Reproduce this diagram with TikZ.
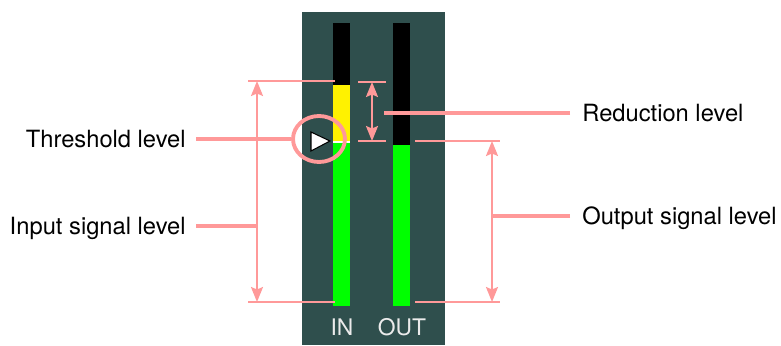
\documentclass[tikz,border=0pt]{standalone}
\usepackage{fontspec}
\setmainfont{TeX Gyre Heros}
\usetikzlibrary{arrows.meta,shapes.geometric}
\definecolor{panelgray}{RGB}{47,79,77}
\definecolor{markpink}{RGB}{255,153,153}

\begin{document}
\begin{tikzpicture}[x=0.02cm,y=-0.02cm,>={Stealth[length=3mm,width=2.4mm,inset=0.5mm]},line cap=butt]
\tikzset{
  lbl/.style={font=\fontsize{13.5}{16}\selectfont,inner sep=0pt,text height=9.7pt,text depth=0pt},
  tick/.style={markpink,line width=1.1pt},
  lead/.style={markpink,line width=2.4pt},
  span/.style={markpink,line width=1.1pt,<->},
  meterlbl/.style={text=black!8,font=\fontsize{13}{14}\selectfont,inner sep=0pt}
}
\useasboundingbox (0,0) rectangle (781,345);
% panel and meters
\fill[panelgray] (302,12) rectangle (445,345);
\fill[black] (333,23) rectangle (350,85);
\fill[yellow] (333,85) rectangle (350,142);
\fill[green] (333,142) rectangle (350,306);
\draw[white,line width=0.6pt] (333,142) -- (350,142);
\fill[black] (393,23) rectangle (410,145);
\fill[green] (393,145) rectangle (410,306);
\node[meterlbl] (in) at (342,327) {IN};
\node[meterlbl] (out) at (402,327) {OUT};
% threshold marker
\filldraw[fill=white,draw=black,line width=0.6pt] (311,132) -- (330,141) -- (311,151) -- cycle;
\node[draw=markpink,line width=2.2pt,ellipse,minimum width=1.04cm,minimum height=0.92cm,inner sep=0pt] (ring) at (319,139) {};
% level marks
\coordinate (inTop) at (257,81);
\coordinate (inBot) at (257,302);
\coordinate (redTop) at (372,82);
\coordinate (redBot) at (372,141);
\coordinate (outTop) at (492,141);
\coordinate (outBot) at (492,302);
\draw[tick] (248,81) -- (335,81);
\draw[tick] (248,302) -- (335,302);
\draw[tick] (358,82) -- (386,82);
\draw[tick] (358,141) -- (386,141);
\draw[tick] (415,141) -- (500,141);
\draw[tick] (415,302) -- (500,302);
\draw[span] (inTop) -- (inBot);
\draw[span] (redTop) -- (redBot);
\draw[span] (outTop) -- (outBot);
% labels
\node[lbl,anchor=east] (thr) at (186,139) {Threshold level};
\node[lbl,anchor=east] (inlev) at (186,226) {Input signal level};
\node[lbl,anchor=west] (red) at (582,113) {Reduction level};
\node[lbl,anchor=west] (outlev) at (582,216) {Output signal level};
\draw[lead] ([xshift=0.2cm]thr.east) -- (ring.west);
\draw[lead] ([xshift=0.2cm]inlev.east) -- (inlev.east -| inTop);
\draw[lead] ([xshift=-0.24cm]red.west) -- (red.west -| 384,0);
\draw[lead] ([xshift=-0.24cm]outlev.west) -- (outlev.west -| outTop);
\end{tikzpicture}
\end{document}
